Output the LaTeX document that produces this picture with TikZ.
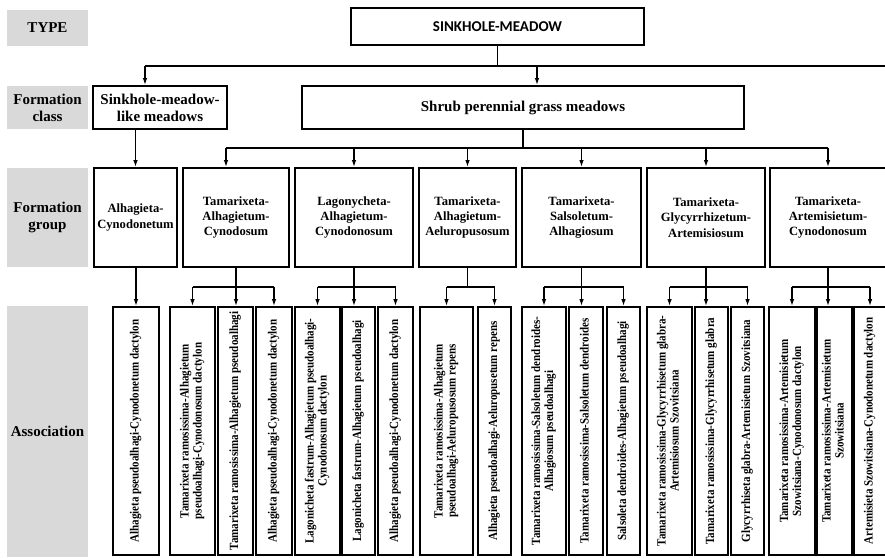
\documentclass[tikz,border=0pt]{standalone}
\usepackage{fontspec}
\setmainfont{Liberation Serif}
\newfontfamily\capfont{Carlito}
\usepackage{graphicx}
\usetikzlibrary{arrows.meta,positioning}
\definecolor{labelgray}{HTML}{D9D9D9}
\newcommand{\vtext}[1]{\rotatebox{90}{\scalebox{0.88}[1]{\begin{tabular}{@{}c@{}}#1\end{tabular}}}}

\begin{document}
\begin{tikzpicture}[
    x=1pt,y=-1pt,
    >={Latex[length=7pt,width=4.5pt]},
    every node/.style={align=center,inner sep=0pt},
    lab/.style={fill=labelgray,minimum width=81pt,
                font=\bfseries\fontsize{15}{17}\selectfont},
    box/.style={draw,line width=1.8pt},
    cls/.style={box,minimum height=43pt,font=\bfseries\fontsize{15}{17}\selectfont},
    grp/.style={box,minimum height=99pt,font=\bfseries\fontsize{12.6}{15.3}\selectfont},
    assoc/.style={box,minimum height=248pt,font=\bfseries\fontsize{12.5}{13}\selectfont},
    link/.style={line width=1.3pt}
  ]
  \useasboundingbox (0,0) rectangle (885,557);

  % row labels
  \node[lab,minimum height=36pt] (ltype) at (47.5,28) {TYPE};
  \node[lab,minimum height=43pt] (lclass) at (47.5,107.5) {Formation\\class};
  \node[lab,minimum height=99pt] (lgroup) at (47.5,217.5) {Formation\\group};
  \node[lab,minimum height=251pt] (lassoc) at (47.5,431.5) {Association};

  % type and formation classes
  \node[box,minimum width=293pt,minimum height=37pt,
        font=\capfont\bfseries\fontsize{15}{17}\selectfont] (type) at (497.5,26.5) {SINKHOLE-MEADOW};
  \node[cls,minimum width=134pt] (like) at (160,107.5) {Sinkhole-meadow-\\like meadows};
  \node[cls,minimum width=442pt] (shrub) at (523,107.5) {Shrub perennial grass meadows};

  % formation groups
  \node[grp,minimum width=83pt] (g1) at (135.5,217.5) {Alhagieta-\\Cynodonetum};
  \node[grp,minimum width=106pt] (g2) at (236,217.5) {Tamarixeta-\\Alhagietum-\\Cynodosum};
  \node[grp,minimum width=118pt] (g3) at (354,217.5) {Lagonycheta-\\Alhagietum-\\Cynodonosum};
  \node[grp,minimum width=97pt] (g4) at (467.5,217.5) {Tamarixeta-\\Alhagietum-\\Aeluropusosum};
  \node[grp,minimum width=119pt] (g5) at (581.5,217.5) {Tamarixeta-\\Salsoletum-\\Alhagiosum};
  \node[grp,minimum width=118pt] (g6) at (706,217.5) {Tamarixeta-\\Glycyrrhizetum-\\Artemisiosum};
  \node[grp,minimum width=116pt] (g7) at (828,217.5) {Tamarixeta-\\Artemisietum-\\Cynodonosum};

  % associations
  \node[assoc,minimum width=46pt] (a1) at (136,431) {\vtext{Alhagieta pseudoalhagi-Cynodonetum dactylon}};
  \node[assoc,minimum width=45pt] (a2) at (192.5,431) {\vtext{Tamarixeta ramosissima-Alhagietum\\pseudoalhagi-Cynodonosum dactylon}};
  \node[assoc,minimum width=35pt] (a3) at (235.5,431) {\vtext{Tamarixeta ramosissima-Alhagietum pseudoalhagi}};
  \node[assoc,minimum width=36pt] (a4) at (274,431) {\vtext{Alhagieta pseudoalhagi-Cynodonetum dactylon}};
  \node[assoc,minimum width=45pt] (a5) at (317.5,431) {\vtext{Lagonicheta fastrum-Alhagietum pseudoalhagi-\\Cynodonosum dactylon}};
  \node[assoc,minimum width=33pt] (a6) at (358.5,431) {\vtext{Lagonicheta fastrum-Alhagietum pseudoalhagi}};
  \node[assoc,minimum width=35pt] (a7) at (395.5,431) {\vtext{Alhagieta pseudoalhagi-Cynodonetum dactylon}};
  \node[assoc,minimum width=53pt] (a8) at (446.5,431) {\vtext{Tamarixeta ramosissima-Alhagietum\\pseudoalhagi-Aeluropusosum repens}};
  \node[assoc,minimum width=33pt] (a9) at (494.5,431) {\vtext{Alhagieta pseudoalhagi-Aeluropusetum repens}};
  \node[assoc,minimum width=44pt] (a10) at (544,431) {\vtext{Tamarixeta ramosissima-Salsoletum dendroides-\\Alhagiosum pseudoalhagi}};
  \node[assoc,minimum width=34pt] (a11) at (586,431) {\vtext{Tamarixeta ramosissima-Salsoletum dendroides}};
  \node[assoc,minimum width=33pt] (a12) at (623.5,431) {\vtext{Salsoleta dendroides-Alhagietum pseudoalhagi}};
  \node[assoc,minimum width=45pt] (a13) at (669.5,431) {\vtext{Tamarixeta ramosissima-Glycyrrhisetum glabra-\\Artemisiosum Szovitsiana}};
  \node[assoc,minimum width=33pt] (a14) at (711.5,431) {\vtext{Tamarixeta ramosissima-Glycyrrhisetum glabra}};
  \node[assoc,minimum width=33pt] (a15) at (747.5,431) {\vtext{Glycyrrhiseta glabra-Artemisietum Szovitsiana}};
  \node[assoc,minimum width=46pt] (a16) at (792,431) {\vtext{Tamarixeta ramosissima-Artemisietum\\Szowitsiana-Cynodonosum dactylon}};
  \node[assoc,minimum width=35pt] (a17) at (834.5,431) {\vtext{Tamarixeta ramosissima-Artemisietum\\Szowitsiana}};
  \node[assoc,minimum width=32pt] (a18) at (870,431) {\vtext{Artemisieta Szowitsiana-Cynodonetum dactylon}};

  % type -> classes
  \coordinate (j1) at (145,66);
  \coordinate (j2) at (537,66);
  \coordinate (jend) at (886,66);
  \draw[link] (type.south) -- (type.south |- j1);
  \draw[link] (j1) -- (jend);
  \draw[link,->] (j1) -- (j1 |- like.north);
  \draw[link,->] (j2) -- (j2 |- shrub.north);

  % classes -> groups
  \coordinate (k1) at (226,148);
  \draw[link,->] (g1.north |- like.south) -- (g1.north);
  \draw[link] (shrub.south) -- (shrub.south |- k1);
  \draw[link] (k1) -- (g7.north |- k1);
  \draw[link,->] (k1) -- (k1 |- g2.north);
  \foreach \g in {g3,g4,g5,g6,g7}
    \draw[link,->] (\g.north |- k1) -- (\g.north);

  % groups -> associations
  \coordinate (lvl) at (0,287);
  \draw[link,->] (a1.north |- g1.south) -- (a1.north);
  \foreach \g/\first/\last in {g2/a2/a4,g3/a5/a7,g5/a10/a12,g6/a13/a15,g7/a16/a18}{
    \draw[link,->] (\g.south) -- (\g.south |- \first.north);
    \draw[link] (\first.north |- lvl) -- (\last.north |- lvl);
    \draw[link,->] (\first.north |- lvl) -- (\first.north);
    \draw[link,->] (\last.north |- lvl) -- (\last.north);
  }
  \draw[link] (g4.south) -- (g4.south |- lvl);
  \draw[link] (a8.north |- lvl) -- (a9.north |- lvl);
  \draw[link,->] (a8.north |- lvl) -- (a8.north);
  \draw[link,->] (a9.north |- lvl) -- (a9.north);
\end{tikzpicture}
\end{document}
